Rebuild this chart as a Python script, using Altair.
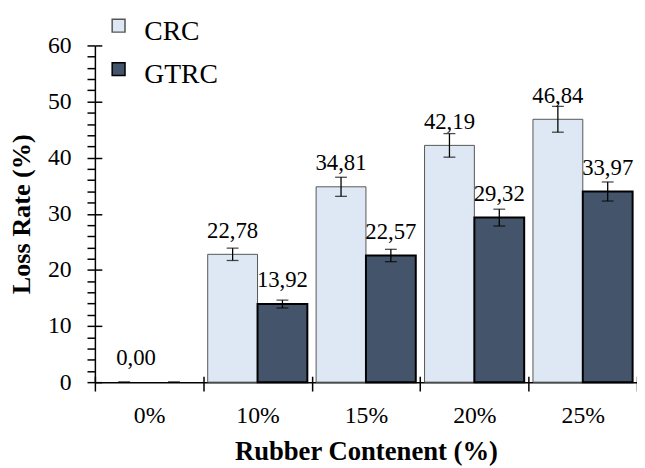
import altair as alt
import pandas as pd

categories = ["0%", "10%", "15%", "20%", "25%"]
series = ["CRC", "GTRC"]
crc_values = [0.00, 22.78, 34.81, 42.19, 46.84]
gtrc_values = [0.00, 13.92, 22.57, 29.32, 33.97]
crc_err = [0.0, 1.1, 1.7, 2.1, 2.3]
gtrc_err = [0.0, 0.7, 1.1, 1.5, 1.7]
colors = ["#dde8f4", "#44546a"]
strokes = ["#555555", "#000000"]

rows = []
for s, vals, errs in [("CRC", crc_values, crc_err), ("GTRC", gtrc_values, gtrc_err)]:
    for c, v, e in zip(categories, vals, errs):
        lab = f"{v:.2f}".replace(".", ",")
        if s == "GTRC" and v == 0:
            lab = ""
        rows.append({"Content": c, "Series": s, "Value": v, "lo": v - e, "hi": v + e, "Label": lab})
df = pd.DataFrame(rows)

FONT = "Liberation Serif"

x_scale = alt.Scale(paddingInner=0, paddingOuter=0)
xo_scale = alt.Scale(paddingOuter=0.088, paddingInner=0)
y_scale = alt.Scale(domain=[0, 60], nice=False)

x_main = alt.X("Content:N", sort=categories, scale=x_scale,
               axis=alt.Axis(orient="bottom", title="Rubber Contenent (%)", labelAngle=0,
                             tickBand="extent", tickSize=9, labelPadding=13,
                             labelFont=FONT, labelFontSize=24, labelColor="black",
                             titleFont=FONT, titleFontSize=27, titleFontWeight="bold",
                             titleColor="black", titlePadding=11,
                             domainColor="black", domainWidth=1.5,
                             tickColor="black", tickWidth=1.5, grid=False))
y_main = alt.Y("Value:Q", scale=y_scale,
               axis=alt.Axis(orient="left", title="Loss Rate (%)", values=list(range(0, 61, 2)),
                             labelExpr="datum.value % 10 === 0 ? datum.label : ''",
                             labelOverlap=False, tickSize=8, labelPadding=16,
                             labelFont=FONT, labelFontSize=24, labelColor="black",
                             titleFont=FONT, titleFontSize=26.5, titleFontWeight="bold",
                             titleColor="black", titlePadding=12,
                             domainColor="black", domainWidth=1.5,
                             tickColor="black", tickWidth=1.5, grid=False))
xo = alt.XOffset("Series:N", sort=series, scale=xo_scale)

# square symbol drawn slightly above the label's middle line
legend_def = alt.Legend(title=None, orient="none", legendX=10, legendY=-28,
                        symbolType="M-1,-1.92H1V0.08H-1Z", symbolSize=169, symbolStrokeWidth=1.5,
                        labelFont=FONT, labelFontSize=28, labelColor="black",
                        labelOffset=12, rowPadding=14, padding=0, labelLimit=0)

bars = alt.Chart(df).mark_bar().encode(
    x=x_main,
    xOffset=xo,
    y=y_main,
    fill=alt.Fill("Series:N", sort=series, scale=alt.Scale(domain=series, range=colors),
                  legend=legend_def),
    stroke=alt.Stroke("Series:N", sort=series, scale=alt.Scale(domain=series, range=strokes),
                      legend=legend_def),
    strokeWidth=alt.condition(alt.datum.Series == "GTRC", alt.value(2), alt.value(1)),
    opacity=alt.condition(alt.datum.Value > 0, alt.value(1), alt.value(0)),
)

x_plain = alt.X("Content:N", sort=categories, scale=x_scale, axis=None)

inner_ticks = alt.Chart(df).mark_bar(opacity=0).encode(
    x=alt.X("Content:N", sort=categories, scale=x_scale,
            axis=alt.Axis(orient="bottom", offset=-6, tickSize=6, tickBand="extent",
                          labels=False, domain=False, title=None, grid=False,
                          tickColor="black", tickWidth=1.5)),
    xOffset=xo,
    y=alt.Y("Value:Q", scale=y_scale,
            axis=alt.Axis(orient="left", offset=-7, tickSize=7, values=list(range(0, 61, 10)),
                          labels=False, domain=False, title=None, grid=False,
                          tickColor="black", tickWidth=1.5)),
)

rule = alt.Chart(df).mark_rule(color="black", strokeWidth=1.3).encode(
    x=x_plain, xOffset=xo,
    y=alt.Y("lo:Q", scale=y_scale, axis=None), y2="hi:Q",
)
cap_lo = alt.Chart(df).mark_tick(color="black", size=12, thickness=1.3, orient="horizontal").encode(
    x=x_plain, xOffset=xo, y=alt.Y("lo:Q", scale=y_scale, axis=None),
)
cap_hi = alt.Chart(df).mark_tick(color="black", size=12, thickness=1.3, orient="horizontal").encode(
    x=x_plain, xOffset=xo, y=alt.Y("hi:Q", scale=y_scale, axis=None),
)

labels = alt.Chart(df).mark_text(
    font=FONT, fontSize=23, color="black", baseline="alphabetic", dy=-17,
    dx=alt.ExprRef("datum.Content === '0%' ? 12 : 0"),
).encode(
    x=x_plain, xOffset=xo, y=alt.Y("Value:Q", scale=y_scale, axis=None), text="Label:N",
)

chart = alt.layer(bars, inner_ticks, rule, cap_lo, cap_hi, labels).resolve_axis(
    x="independent", y="independent"
).properties(
    width=549, height=341,
    padding={"left": 88, "top": 35, "right": 0, "bottom": 82},
    autosize=alt.AutoSizeParams(type="none"),
    background="white",
).configure_view(stroke=None)

chart.save("out.html", embed_options={"renderer": "svg", "actions": False})
